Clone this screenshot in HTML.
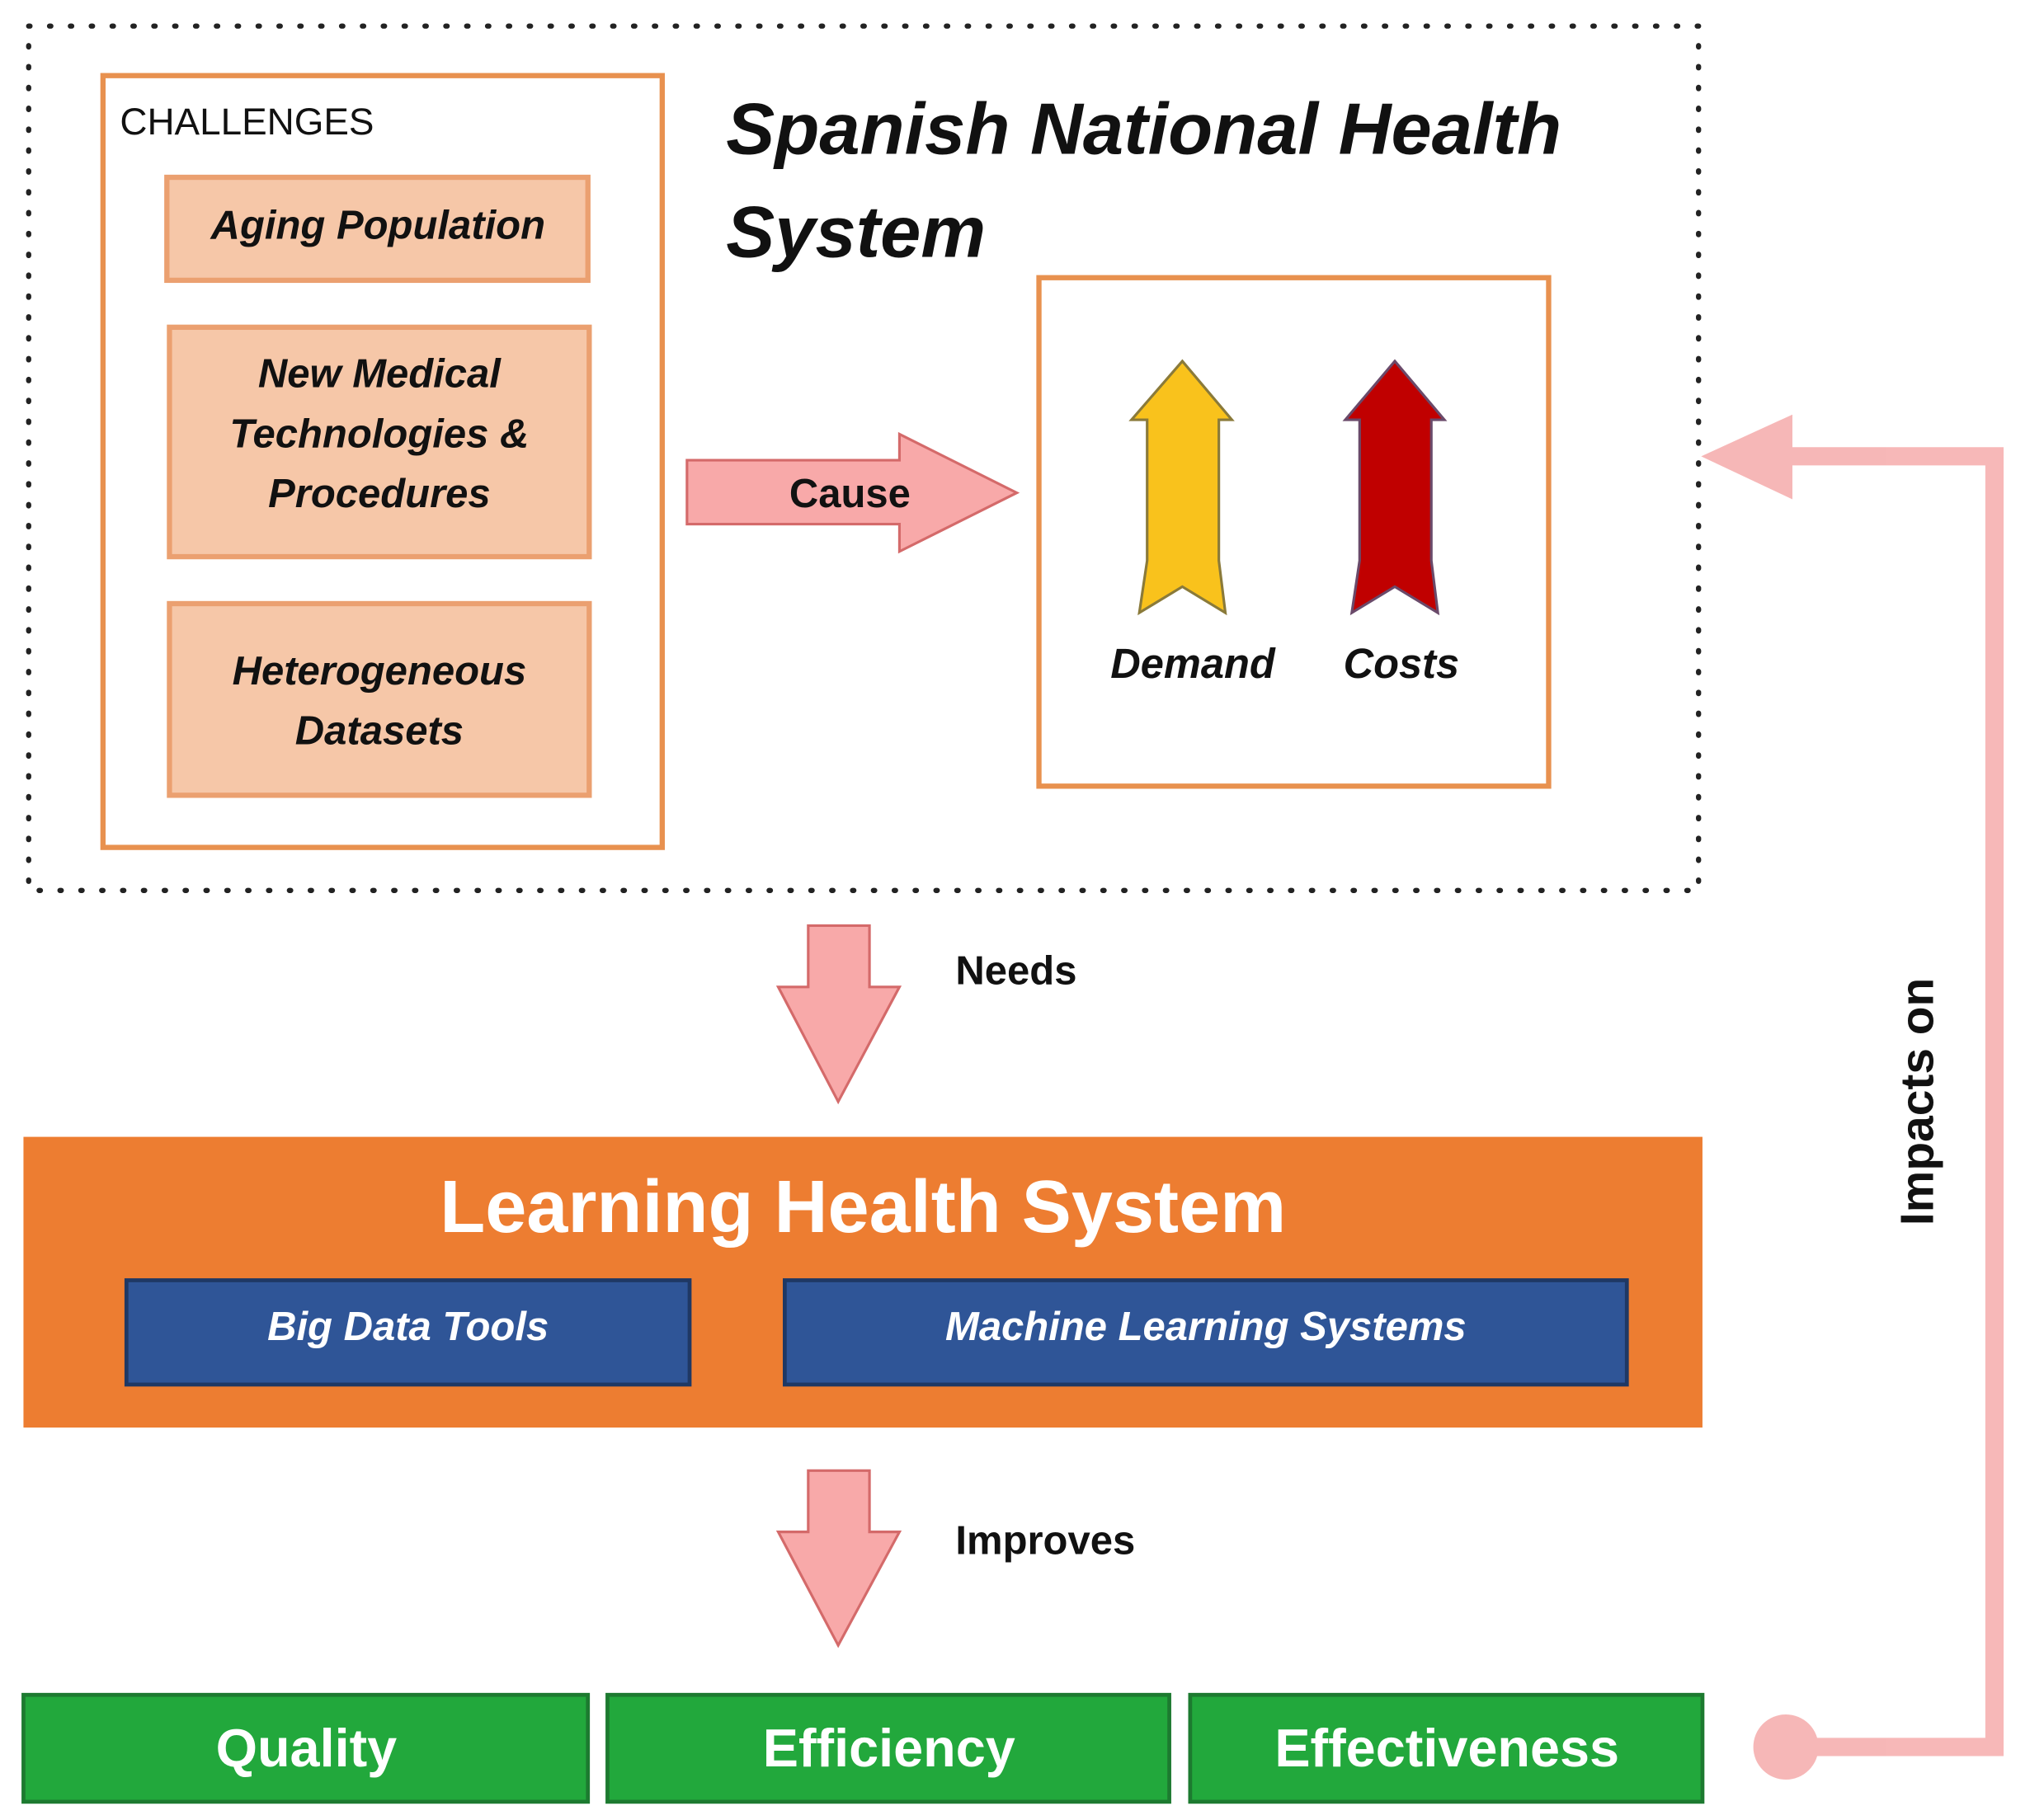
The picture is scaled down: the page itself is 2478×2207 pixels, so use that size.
<!DOCTYPE html>
<html><head><meta charset="utf-8"><style>
html,body{margin:0;padding:0;background:#fff;}
svg{display:block;}
text{font-family:"Liberation Sans",sans-serif;}
</style></head><body>
<svg width="2478" height="2207" viewBox="0 0 1568 1396" preserveAspectRatio="none" xmlns="http://www.w3.org/2000/svg">
<rect x="22" y="20" width="1281" height="663" fill="none" stroke="#222" stroke-width="4" stroke-dasharray="1 15" stroke-linecap="round"/>
<rect x="79" y="58" width="429" height="592" fill="#fff" stroke="#e8914f" stroke-width="4"/>
<text x="92" y="103" font-size="29" fill="#111">CHALLENGES</text>
<g fill="#f6c7a8" stroke="#eba070" stroke-width="4">
<rect x="128" y="136" width="323" height="79"/>
<rect x="130" y="251" width="322" height="176"/>
<rect x="130" y="463" width="322" height="147"/>
</g>
<g font-size="31" font-weight="bold" font-style="italic" fill="#111" text-anchor="middle">
<text x="290" y="183">Aging Population</text>
<text x="291" y="297">New Medical</text>
<text x="291" y="343">Technologies &amp;</text>
<text x="291" y="389">Procedures</text>
<text x="291" y="525">Heterogeneous</text>
<text x="291" y="571">Datasets</text>
</g>
<text x="557" y="118" font-size="56" font-weight="bold" font-style="italic" fill="#111">Spanish National Health</text>
<text x="557" y="197" font-size="56" font-weight="bold" font-style="italic" fill="#111">System</text>
<rect x="797" y="213" width="391" height="390" fill="#fff" stroke="#e8914f" stroke-width="4"/>
<polygon points="907,277 945,322 935,322 935,430 940,470 907,450 874,470 880,430 880,322 868,322" fill="#f9c21c" stroke="#8a7a3a" stroke-width="2"/>
<polygon points="1070,277 1108,322 1098,322 1098,430 1103,470 1070,450 1037,470 1043,430 1043,322 1032,322" fill="#c00000" stroke="#6a4a6a" stroke-width="2"/>
<text x="915" y="520" font-size="32" font-weight="bold" font-style="italic" fill="#111" text-anchor="middle">Demand</text>
<text x="1075" y="520" font-size="32" font-weight="bold" font-style="italic" fill="#111" text-anchor="middle">Costs</text>
<g fill="#f8a9a9" stroke="#d46a6a" stroke-width="2">
<polygon points="527,353 690,353 690,333 780,378 690,423 690,402 527,402"/>
<polygon points="620,710 667,710 667,757 690,757 643,845 597,757 620,757"/>
<polygon points="620,1128 667,1128 667,1175 690,1175 643,1262 597,1175 620,1175"/>
</g>
<text x="652" y="389" font-size="31" font-weight="bold" fill="#111" text-anchor="middle">Cause</text>
<text x="733" y="755" font-size="31" font-weight="bold" fill="#111">Needs</text>
<text x="733" y="1192" font-size="31" font-weight="bold" fill="#111">Improves</text>
<rect x="18" y="872" width="1288" height="223" fill="#ed7d31"/>
<text x="662" y="945" font-size="57" font-weight="bold" fill="#fff" text-anchor="middle">Learning Health System</text>
<g fill="#2f5597" stroke="#1f3864" stroke-width="3">
<rect x="97" y="982" width="432" height="80"/>
<rect x="602" y="982" width="646" height="80"/>
</g>
<text x="313" y="1028" font-size="31" font-weight="bold" font-style="italic" fill="#fff" text-anchor="middle">Big Data Tools</text>
<text x="925" y="1028" font-size="31" font-weight="bold" font-style="italic" fill="#fff" text-anchor="middle">Machine Learning Systems</text>
<g fill="#22a83c" stroke="#1d7a30" stroke-width="3">
<rect x="18" y="1300" width="433" height="82"/>
<rect x="466" y="1300" width="431" height="82"/>
<rect x="913" y="1300" width="393" height="82"/>
</g>
<g font-size="41" font-weight="bold" fill="#fff" text-anchor="middle">
<text x="235" y="1355">Quality</text>
<text x="682" y="1355">Efficiency</text>
<text x="1110" y="1355">Effectiveness</text>
</g>
<g opacity="0.75">
<circle cx="1370" cy="1340" r="25" fill="#f4a0a0"/>
<polyline points="1370,1340 1530,1340 1530,350 1370,350" fill="none" stroke="#f4a0a0" stroke-width="14"/>
<polygon points="1305,350 1375,318 1375,383" fill="#f4a0a0"/>
</g>
<text transform="translate(1483,845) rotate(-90)" font-size="36" font-weight="bold" fill="#111" text-anchor="middle">Impacts on</text>
</svg>
</body></html>
